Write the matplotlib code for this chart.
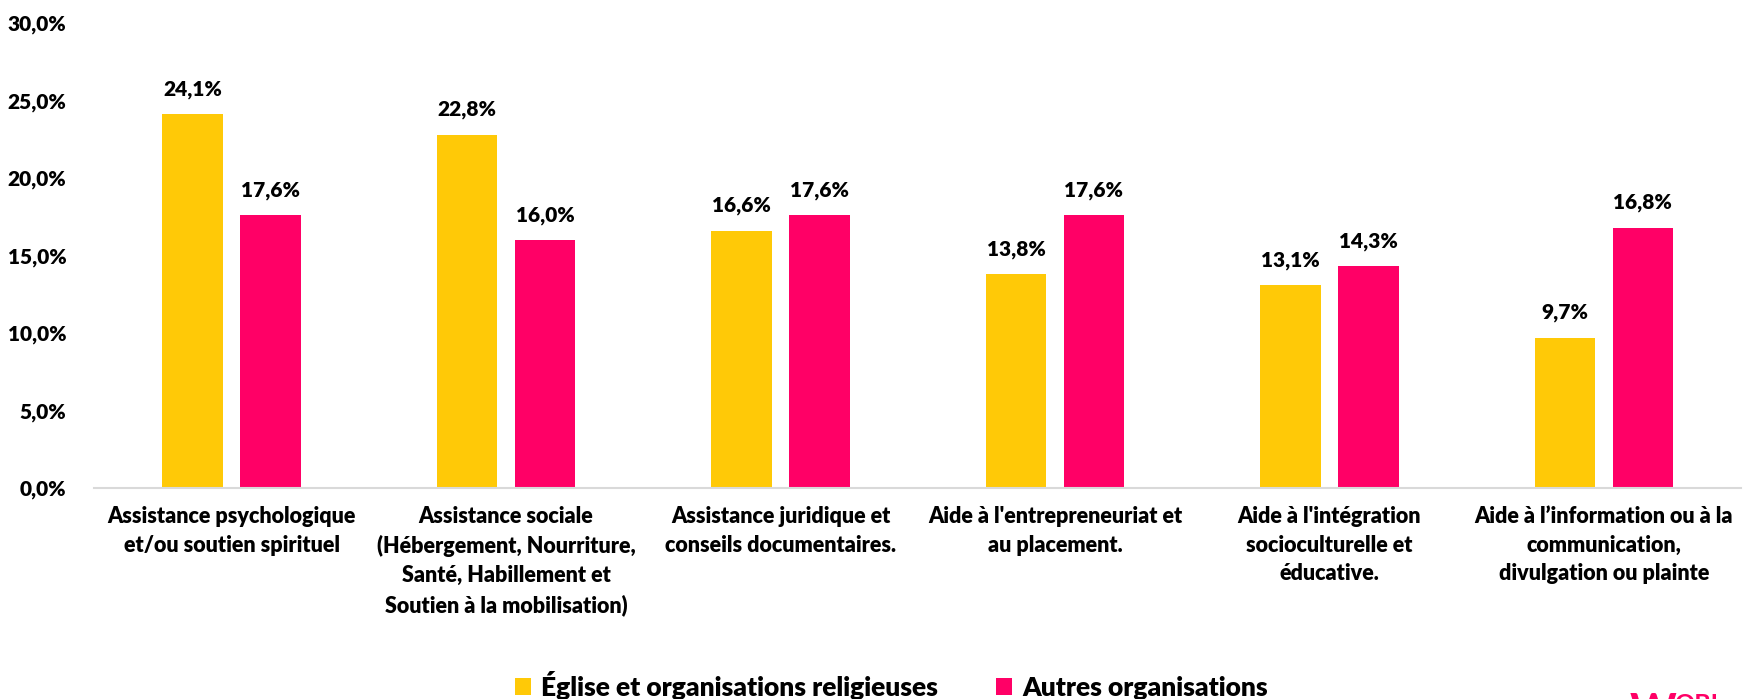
import numpy as np
import matplotlib.pyplot as plt

categories = [
    "Assistance psychologique\net/ou soutien spirituel",
    "Assistance sociale\n(Hébergement, Nourriture,\nSanté, Habillement et\nSoutien à la mobilisation)",
    "Assistance juridique et\nconseils documentaires.",
    "Aide à l'entrepreneuriat et\nau placement.",
    "Aide à l'intégration\nsocioculturelle et\néducative.",
    "Aide à l’information ou à la\ncommunication,\ndivulgation ou plainte",
]
eglise = [24.1, 22.8, 16.6, 13.8, 13.1, 9.7]
autres = [17.6, 16.0, 17.6, 17.6, 14.3, 16.8]
series_names = ["Église et organisations religieuses", "Autres organisations"]

yellow = "#FFC907"
pink = "#FF0066"
wt = "heavy"

plt.rcParams['font.family'] = ['Lato', 'DejaVu Sans']

fig = plt.figure(figsize=(17.48, 6.99), dpi=100)
ax = fig.add_axes([0.054, 0.302, 0.942, 0.665])

x = np.arange(len(categories))
w = 0.22
off = 0.142
b1 = ax.bar(x - off, eglise, w, color=yellow, label=series_names[0])
b2 = ax.bar(x + off, autres, w, color=pink, label=series_names[1])

for bars, vals in ((b1, eglise), (b2, autres)):
    for rect, v in zip(bars, vals):
        ax.annotate(f"{v:.1f}%".replace(".", ","),
                    (rect.get_x() + rect.get_width() / 2, v),
                    xytext=(0, 11), textcoords="offset points",
                    ha="center", va="bottom", fontsize=15, fontweight=wt)

ax.set_xlim(-0.5, len(categories) - 0.5)
ax.set_ylim(0, 30)
ax.set_yticks(np.arange(0, 31, 5))
ax.set_yticklabels([f"{t:.1f}%".replace(".", ",") for t in np.arange(0, 31, 5)],
                   fontsize=15, fontweight=wt)
ax.set_xticks(x)
ax.set_xticklabels(categories, fontsize=15.5, fontweight=wt, linespacing=1.45)
ax.tick_params(axis="both", length=0)
ax.tick_params(axis="y", pad=20)
ax.tick_params(axis="x", pad=13)
for s in ("top", "right", "left"):
    ax.spines[s].set_visible(False)
ax.spines["bottom"].set_color("#d9d9d9")
ax.spines["bottom"].set_linewidth(1.5)

fig.legend(handles=[b1, b2], labels=series_names, loc="center",
           bbox_to_anchor=(0.51, 0.02), ncol=2, frameon=False,
           prop={"size": 19, "weight": wt}, handlelength=0.6,
           handleheight=0.6, handletextpad=0.4, columnspacing=2.2)

# logo, cut by the bottom edge as in the original
fig.text(0.932, -0.018, "W", color=pink, fontsize=32, fontweight="bold",
         ha="left", va="center")
fig.text(0.958, -0.008, "OBI", color=pink, fontsize=18, fontweight="bold",
         ha="left", va="center")

fig.savefig("out.png", dpi=100)
